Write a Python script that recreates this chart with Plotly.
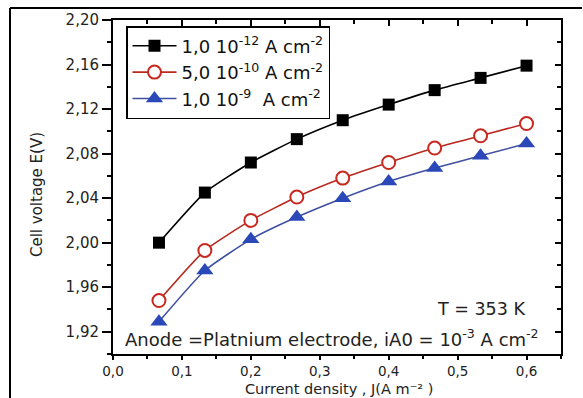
import plotly.graph_objects as go

# ---- data ----
current_density = [0.0667, 0.1333, 0.2000, 0.2667, 0.3333, 0.4000, 0.4667, 0.5333, 0.6000]
v_1e12 = [2.000, 2.045, 2.072, 2.093, 2.110, 2.124, 2.137, 2.148, 2.159]
v_5e10 = [1.948, 1.993, 2.020, 2.041, 2.058, 2.072, 2.085, 2.096, 2.107]
v_1e9 = [1.929, 1.975, 2.003, 2.023, 2.040, 2.055, 2.067, 2.078, 2.089]

series_names = ["1,0 10<sup>-12</sup> A cm<sup>-2</sup>",
                "5,0 10<sup>-10</sup> A cm<sup>-2</sup>",
                "1,0 10<sup>-9</sup>  A cm<sup>-2</sup>"]

x_tickvals = [0.0, 0.1, 0.2, 0.3, 0.4, 0.5, 0.6]
x_ticktext = ["0,0", "0,1", "0,2", "0,3", "0,4", "0,5", "0,6"]
y_tickvals = [1.92, 1.96, 2.00, 2.04, 2.08, 2.12, 2.16, 2.20]
y_ticktext = ["1,92", "1,96", "2,00", "2,04", "2,08", "2,12", "2,16", "2,20"]

FONT = "DejaVu Sans, Liberation Sans, sans-serif"
TXT = "#222"

# plot area in pixels
L, R, T, B = 113, 561, 20, 354
W, H = R - L, B - T

def px(xp):
    return (xp - L) / W

def py(yp):
    return (B - yp) / H

fig = go.Figure()
fig.add_trace(go.Scatter(
    x=current_density, y=v_1e12, name=series_names[0], mode="lines+markers",
    line=dict(color="black", width=1.6, shape="spline", smoothing=0.5),
    marker=dict(symbol="square", size=12, color="black")))
fig.add_trace(go.Scatter(
    x=current_density, y=v_5e10, name=series_names[1], mode="lines+markers",
    line=dict(color="#b8281e", width=1.6, shape="spline", smoothing=0.5),
    marker=dict(symbol="circle", size=13, color="white",
                line=dict(color="#c8281e", width=2))))
fig.add_trace(go.Scatter(
    x=current_density, y=v_1e9, name=series_names[2], mode="lines+markers",
    line=dict(color="#4050a0", width=1.6, shape="spline", smoothing=0.5),
    marker=dict(symbol="triangle-up", size=15, color="#2a48b8")))

# invisible trace for mirrored (inward) top/right axes
fig.add_trace(go.Scatter(x=[None], y=[None], xaxis="x2", yaxis="y2",
                         showlegend=False, hoverinfo="skip"))

axis_common = dict(showgrid=False, zeroline=False, showline=True,
                   linecolor="black", linewidth=2,
                   tickcolor="black", tickwidth=2, automargin=False)

fig.update_layout(
    width=583, height=398,
    margin=dict(l=L, r=583 - R, t=T, b=398 - B),
    paper_bgcolor="white", plot_bgcolor="white",
    font=dict(family=FONT, color=TXT),
    xaxis=dict(range=[0, 0.65], tickvals=x_tickvals, ticktext=x_ticktext,
               ticks="outside", ticklen=4,
               minor=dict(ticks="outside", ticklen=3, dtick=0.05,
                          tickcolor="black", tickwidth=2),
               tickfont=dict(size=13.5, color=TXT),
               **axis_common),
    yaxis=dict(range=[1.90, 2.20], tickvals=y_tickvals, ticktext=y_ticktext,
               ticks="outside", ticklen=9,
               minor=dict(ticks="outside", ticklen=4, dtick=0.02, tick0=1.90,
                          tickcolor="black", tickwidth=2),
               tickfont=dict(size=15, color=TXT),
               **axis_common),
    xaxis2=dict(overlaying="x", side="top", range=[0, 0.65],
                tickvals=x_tickvals, ticktext=["" for _ in x_tickvals],
                ticks="inside", ticklen=6,
                minor=dict(ticks="inside", ticklen=4, dtick=0.05,
                           tickcolor="black", tickwidth=2),
                **axis_common),
    yaxis2=dict(overlaying="y", side="right", range=[1.90, 2.20],
                tickvals=y_tickvals, ticktext=["" for _ in y_tickvals],
                ticks="inside", ticklen=6,
                minor=dict(ticks="inside", ticklen=4, dtick=0.02, tick0=1.90,
                           tickcolor="black", tickwidth=2),
                **axis_common),
    legend=dict(x=px(126), y=py(26), xanchor="left", yanchor="top",
                bordercolor="black", borderwidth=1.5, bgcolor="white",
                font=dict(size=18, color="#111", family=FONT),
                itemwidth=44, tracegroupgap=0),
    showlegend=True,
)

# axis titles
fig.add_annotation(x=px(339), y=py(398), xref="paper", yref="paper",
                   text="Current density , J(A m⁻² )",
                   showarrow=False, xanchor="center", yanchor="bottom",
                   borderpad=0,
                   font=dict(size=14.5, color=TXT))
fig.add_annotation(x=px(37), y=py(195), xref="paper", yref="paper",
                   text="Cell voltage E(V)", textangle=-90,
                   showarrow=False, xanchor="center", yanchor="middle",
                   font=dict(size=15, color=TXT))

fig.add_annotation(x=0.6, y=1.940, xref="x", yref="y", text="T = 353 K",
                   showarrow=False, xanchor="right", yanchor="middle",
                   font=dict(size=17.5, color=TXT))
fig.add_annotation(x=0.318, y=1.914, xref="x", yref="y",
                   text="Anode =Platnium electrode, iA0 = 10<sup>-3</sup> A cm<sup>-2</sup>",
                   showarrow=False, xanchor="center", yanchor="middle",
                   font=dict(size=18, color=TXT))

# outer frame (left and top edges of the surrounding box)
fig.add_shape(type="line", xref="paper", yref="paper",
              x0=px(10), x1=px(582), y0=py(8), y1=py(8),
              line=dict(color="black", width=2))
fig.add_shape(type="line", xref="paper", yref="paper",
              x0=px(10), x1=px(10), y0=py(8), y1=py(400),
              line=dict(color="black", width=2))

fig.write_html("out.html")
